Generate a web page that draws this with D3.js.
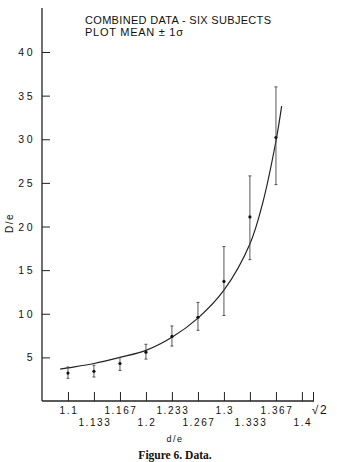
<!DOCTYPE html>
<html>
<head>
<meta charset="utf-8">
<script src="https://cdn.jsdelivr.net/npm/d3@7"></script>
<style>
	body { margin: 0; background: #fff; }
	svg { display: block; }
	text { font-family: "Liberation Sans", "DejaVu Sans", sans-serif; fill: #111; }
</style>
</head>
<body>
<svg id="chart" width="337" height="462"></svg>
<script>
// measured positions (d/e) of each plotted subject mean
var dE = [1.1, 1.1333, 1.1667, 1.2, 1.2333, 1.2667, 1.3, 1.3333, 1.3667];
var means = [3.2, 3.4, 4.3, 5.6, 7.4, 9.6, 13.7, 21.1, 30.2];
var lows = [2.6, 2.75, 3.5, 4.8, 6.3, 8.1, 9.8, 16.2, 24.8];
var highs = [3.9, 4.1, 5.0, 6.5, 8.6, 11.3, 17.7, 25.8, 36.0];

// fitted curve
var curveX = [1.09, 1.1, 1.1333, 1.1667, 1.2, 1.2333, 1.2667, 1.3, 1.3333, 1.35, 1.3667, 1.374];
var curveY = [3.65, 3.8, 4.3, 5.0, 5.8, 7.3, 9.5, 12.7, 18.0, 22.8, 29.8, 33.8];

var xTicks = [1.1, 1.1333, 1.1667, 1.2, 1.2333, 1.2667, 1.3, 1.3333, 1.3667, 1.4, 1.41421];
var xTickLabels = ['1.1', '1.133', '1.167', '1.2', '1.233', '1.267', '1.3', '1.333', '1.367', '1.4', '\u221A2'];
var yTicks = [5, 10, 15, 20, 25, 30, 35, 40];

var svg = d3.select('#chart');

var x = d3.scaleLinear().domain([1.0667, 1.41421]).range([42, 313]);
var y = d3.scaleLinear().domain([0, 40]).range([401, 52]);

// axes: plain lines, ticks pointing inward
svg.append('line')
	.attr('x1', 42).attr('x2', 42)
	.attr('y1', 8).attr('y2', 401)
	.attr('stroke', '#222').attr('stroke-width', 1.3);
svg.append('line')
	.attr('x1', 42).attr('x2', x(1.41421) + 1)
	.attr('y1', 401).attr('y2', 401)
	.attr('stroke', '#222').attr('stroke-width', 1.3);

var yAxis = d3.axisRight(y).tickValues(yTicks).tickSize(8).tickFormat('');
svg.append('g')
	.attr('transform', 'translate(42,0)')
	.call(yAxis)
	.call(function(g) { g.select('.domain').remove(); })
	.selectAll('line').attr('stroke', '#222');

svg.append('g').selectAll('text')
	.data(yTicks)
	.enter()
	.append('text')
	.attr('x', 35)
	.attr('y', function(d) { return y(d) + 4; })
	.attr('text-anchor', 'end')
	.style('font-size', '10.5px')
	.style('letter-spacing', '2.5px')
	.text(function(d) { return d; });

var xAxis = d3.axisTop(x).tickValues(xTicks).tickSize(9).tickFormat('');
svg.append('g')
	.attr('transform', 'translate(0,401)')
	.call(xAxis)
	.call(function(g) { g.select('.domain').remove(); })
	.selectAll('line').attr('stroke', '#222');

svg.append('g').selectAll('text')
	.data(xTicks)
	.enter()
	.append('text')
	.attr('x', function(d, i) { return i === xTicks.length - 1 ? x(d) + 7 : x(d) + 1; })
	.attr('y', function(d, i) { return i % 2 === 0 ? 414 : 426; })
	.attr('text-anchor', 'middle')
	.style('font-size', function(d, i) { return i === xTicks.length - 1 ? '12px' : '10px'; })
	.style('letter-spacing', '1.6px')
	.text(function(d, i) { return xTickLabels[i]; });

// fitted curve
var line = d3.line()
	.x(function(d) { return x(d[0]); })
	.y(function(d) { return y(d[1]); })
	.curve(d3.curveCatmullRom);

svg.append('path')
	.datum(d3.zip(curveX, curveY))
	.attr('d', line)
	.attr('fill', 'none')
	.attr('stroke', '#222')
	.attr('stroke-width', 1.2);

// error bars with caps
var bars = svg.append('g').selectAll('g')
	.data(d3.range(dE.length))
	.enter()
	.append('g');

bars.append('line')
	.attr('x1', function(i) { return x(dE[i]); })
	.attr('x2', function(i) { return x(dE[i]); })
	.attr('y1', function(i) { return y(lows[i]); })
	.attr('y2', function(i) { return y(highs[i]); })
	.attr('stroke', '#444').attr('stroke-width', 0.9);

bars.append('line')
	.attr('x1', function(i) { return x(dE[i]) - 1.5; })
	.attr('x2', function(i) { return x(dE[i]) + 1.5; })
	.attr('y1', function(i) { return y(highs[i]); })
	.attr('y2', function(i) { return y(highs[i]); })
	.attr('stroke', '#444').attr('stroke-width', 0.9);

bars.append('line')
	.attr('x1', function(i) { return x(dE[i]) - 1.5; })
	.attr('x2', function(i) { return x(dE[i]) + 1.5; })
	.attr('y1', function(i) { return y(lows[i]); })
	.attr('y2', function(i) { return y(lows[i]); })
	.attr('stroke', '#444').attr('stroke-width', 0.9);

bars.append('circle')
	.attr('cx', function(i) { return x(dE[i]); })
	.attr('cy', function(i) { return y(means[i]); })
	.attr('r', 1.6)
	.attr('fill', '#111');

// labels
svg.append('text')
	.attr('x', 85).attr('y', 24)
	.attr('textLength', 186).attr('lengthAdjust', 'spacing')
	.style('font-size', '11px')
	.text('COMBINED DATA - SIX SUBJECTS');
svg.append('text')
	.attr('x', 85).attr('y', 36)
	.attr('textLength', 98).attr('lengthAdjust', 'spacing')
	.style('font-size', '11px')
	.text('PLOT MEAN \u00B1 1\u03C3');

svg.append('text')
	.attr('transform', 'translate(13,223) rotate(-90)')
	.attr('text-anchor', 'middle')
	.style('font-size', '10px')
	.style('letter-spacing', '1.5px')
	.text('D/e');

svg.append('text')
	.attr('x', 175).attr('y', 442)
	.attr('text-anchor', 'middle')
	.style('font-size', '9px')
	.style('letter-spacing', '1.5px')
	.text('d/e');

svg.append('text')
	.attr('x', 175).attr('y', 459)
	.attr('text-anchor', 'middle')
	.style('font-family', '"Liberation Serif", "DejaVu Serif", serif')
	.style('font-weight', 'bold')
	.style('font-size', '11.5px')
	.text('Figure 6. Data.');
</script>
</body>
</html>
